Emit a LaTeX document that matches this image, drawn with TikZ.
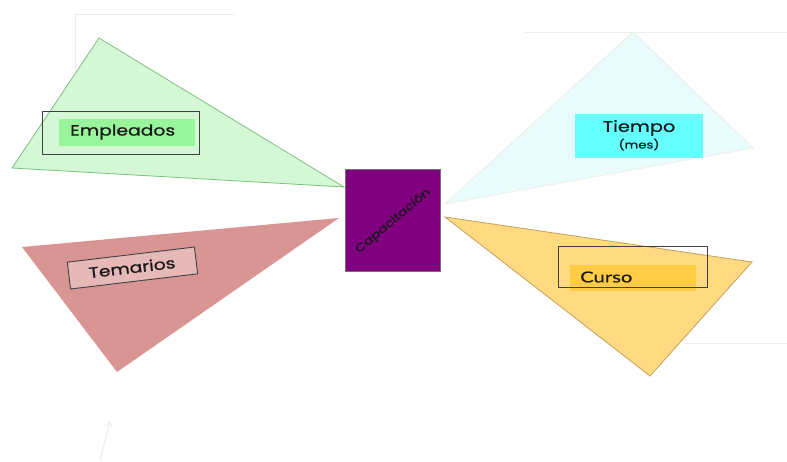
\documentclass[tikz,border=0pt]{standalone}
\usepackage{fontspec}
\setmainfont{Poppins}[FakeStretch=1.25, FakeBold=0.8]
\newfontfamily\cursofont{Lato}[FakeStretch=1.35, FakeBold=0.6]
\usetikzlibrary{arrows.meta}
\definecolor{greenfill}{HTML}{D4F7D6}
\definecolor{greenline}{HTML}{7CC27C}
\definecolor{greenlabel}{HTML}{98F59C}
\definecolor{cyanfill}{HTML}{E8FCFC}
\definecolor{cyanlabel}{HTML}{66FFFF}
\definecolor{redfill}{HTML}{D99594}
\definecolor{redlabel}{HTML}{E6B8B7}
\definecolor{yellowfill}{HTML}{FFDA80}
\definecolor{yellowline}{HTML}{C4A060}
\definecolor{yellowlabel}{HTML}{FFCC44}
\definecolor{centerfill}{HTML}{800080}
\definecolor{faint}{HTML}{EEEEE8}
\tikzset{
  wing/.style={line width=0.8pt, line join=miter},
  labeltext/.style={font=\fontsize{15}{17}\selectfont, text=black!90, inner sep=0pt},
  framebox/.style={draw=black!75, line width=0.9pt},
  guide/.style={draw=faint, line width=1pt},
}
\begin{document}
\begin{tikzpicture}[x=1pt,y=-1pt]
\useasboundingbox (0,0) rectangle (787,461);

% faint guide lines
\draw[guide] (75,115) -- (75,14) -- (235,14);
\draw[guide] (525,32) -- (787,32);
\draw[guide] (683,343) -- (787,343);
\coordinate (tailA) at (100,461);
\coordinate (headA) at (110,421);
\draw[guide, -{Straight Barb[length=5pt,width=7pt]}] (tailA) -- (headA);

% green wing: Empleados
\filldraw[wing, fill=greenfill, draw=greenline] (99,38) -- (12,168) -- (344,187) -- cycle;
\fill[greenlabel] (59,119) rectangle (195,146);
\draw[framebox] (42,111) rectangle (199,154);
\node[labeltext, anchor=west] (empleados) at (70,132) {Empleados};

% cyan wing: Tiempo (mes)
\filldraw[wing, fill=cyanfill, draw=faint] (633,32) -- (445,204) -- (753,148) -- cycle;
\node[fill=cyanlabel, minimum width=128pt, minimum height=44pt, inner sep=0pt] (tiempobox) at (639,136) {};
\node[labeltext, font=\fontsize{15.5}{17}\selectfont] (tiempo) at (639,128) {Tiempo};
\node[labeltext, font=\fontsize{10.6}{12}\selectfont] (mes) at (639,144.5) {(mes)};

% red wing: Temarios
\fill[redfill] (22,247) -- (339,218) -- (117,372) -- cycle;
\node[draw=black!75, line width=0.9pt, fill=redlabel, rotate=6.8, minimum width=128pt, minimum height=27pt, inner sep=0pt] (temariosbox) at (132.5,268) {};
\node[labeltext, rotate=6.8] (temarios) at (132,267.5) {Temarios};

% yellow wing: Curso
\filldraw[wing, fill=yellowfill, draw=yellowline] (445,217) -- (752,262) -- (650,376) -- cycle;
\fill[yellowlabel] (570,265) rectangle (696,291);
\draw[framebox] (558,246) rectangle (707,287);
\node[labeltext, font=\cursofont\fontsize{15}{17}\selectfont, anchor=west] (curso) at (580,277) {Curso};

% centre block
\node[draw=black!55, line width=0.8pt, fill=centerfill, minimum width=95pt, minimum height=102pt, inner sep=0pt] (capacitacion) at (392.5,220) {};
\node[labeltext, font=\fontsize{11}{13}\selectfont, rotate=40] (capacitaciontext) at (393,221) {Capacitación};
\end{tikzpicture}
\end{document}
